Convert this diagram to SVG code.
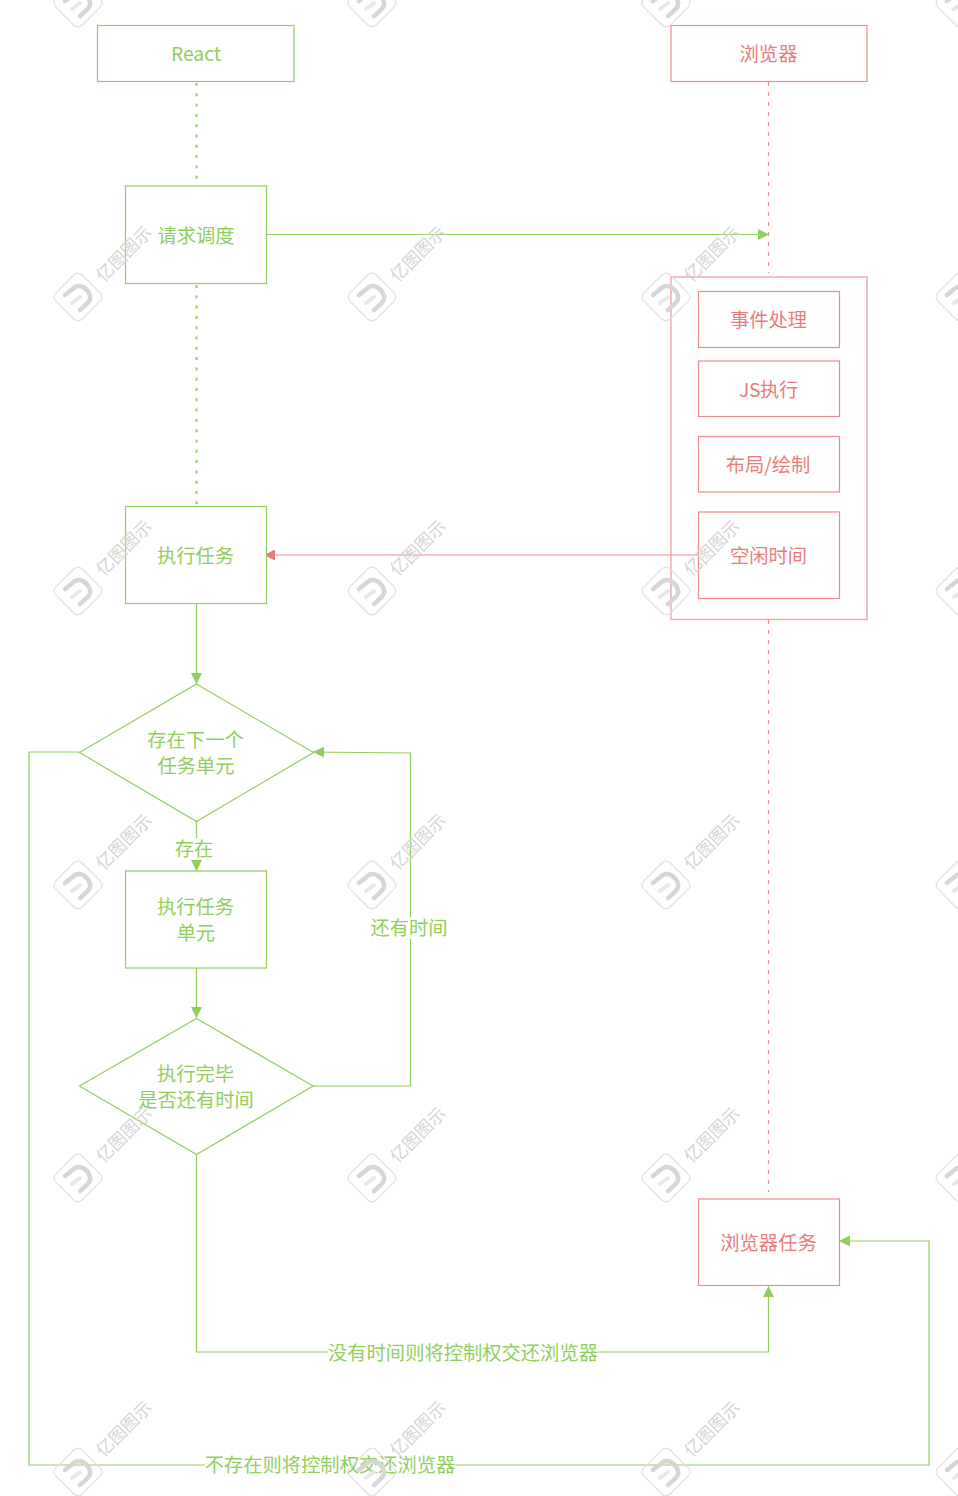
<svg xmlns="http://www.w3.org/2000/svg" width="958" height="1496" viewBox="0 0 958 1496">
<style>
text{font-family:"Noto Sans CJK SC","Noto Sans",sans-serif;font-size:19.3px;text-anchor:middle;dominant-baseline:central}
.g{fill:#fff;stroke:#92ce5c;stroke-width:1.2}
.r{fill:#fff;stroke:#ee8a8b;stroke-width:1.2}
.gt{fill:#92ce5c}
.rt{fill:#ea7b7d}
.cg{fill:none;stroke:#92ce5c;stroke-width:1.2}
.cr{fill:none;stroke:#ee8a8b;stroke-width:1.2}
.dg{fill:none;stroke:#92ce5c;stroke-width:2;stroke-dasharray:3 7.3}
.dr{fill:none;stroke:#ee8a8b;stroke-width:1.2;stroke-dasharray:4 6}
.wt{fill:#d4d4d4;font-size:17.5px}
</style>
<defs>
<marker id="ag" markerUnits="userSpaceOnUse" markerWidth="12" markerHeight="11" refX="11" refY="5.500" orient="auto"><path d="M0 0L11 5.500L0 11Z" fill="#92ce5c"/></marker>
<marker id="ar" markerUnits="userSpaceOnUse" markerWidth="12" markerHeight="11" refX="11" refY="5.500" orient="auto"><path d="M0 0L11 5.500L0 11Z" fill="#ea7b7d"/></marker>
<g id="wm">
<rect x="-18.500" y="-18.500" width="37" height="37" rx="5.500" transform="rotate(45)" fill="none" stroke="#e0e0e0" stroke-width="1.2"/>
<path d="M-13-2L-3-10C3-13 10-8 12-1C13 4 9 7 2 13" fill="none" stroke="#d6d6d6" stroke-width="4.500" stroke-linecap="round"/>
<path d="M-6 6L2 0" fill="none" stroke="#e8e8e8" stroke-width="4" stroke-linecap="round"/>
<text class="wt" x="45" y="-44" transform="rotate(-45 45 -44)">亿图图示</text>
</g>
</defs>
<g id="panel"><rect x="671" y="277" width="196" height="342.500" fill="#fff" stroke="#f3a6a7" stroke-width="1.4"/></g>
<g id="connectors">
<path class="dg" d="M196.500 83V185"/>
<path class="dg" d="M196.500 285V506"/>
<path class="dr" d="M768.500 82V273"/>
<path class="dr" d="M768.500 620V1192"/>
<path class="cg" d="M267 234.500H769" marker-end="url(#ag)"/>
<path class="cr" d="M698 555H264" marker-end="url(#ar)"/>
<path class="cg" d="M196.500 604V684" marker-end="url(#ag)"/>
<path class="cg" d="M196.500 822V871" marker-end="url(#ag)"/>
<path class="cg" d="M196.500 968V1018" marker-end="url(#ag)"/>
<path class="cg" d="M313 1086H410.500V753L313 752" marker-end="url(#ag)"/>
<path class="cg" d="M196.500 1155V1352H768.500V1286" marker-end="url(#ag)"/>
<path class="cg" d="M79 752H29V1465H929V1241H839" marker-end="url(#ag)"/>
</g>
<g id="react"><rect class="g" x="97.500" y="25.500" width="196.500" height="56"/><text class="gt" x="196" y="52.500">React</text></g>
<g id="browser"><rect class="r" x="671" y="25.500" width="196" height="56"/><text class="rt" x="768.500" y="53">浏览器</text></g>
<g id="request"><rect class="g" x="125.500" y="186" width="141" height="97.500"/><text class="gt" x="196" y="235">请求调度</text></g>
<g id="event"><rect class="r" x="698.500" y="291.500" width="141" height="56"/><text class="rt" x="768.500" y="319">事件处理</text></g>
<g id="js"><rect class="r" x="698.500" y="361" width="141" height="55.500"/><text class="rt" x="768.500" y="389" letter-spacing="-0.4">JS执行</text></g>
<g id="layout"><rect class="r" x="698.500" y="436.500" width="141" height="55.500"/><text class="rt" x="768" y="464">布局/绘制</text></g>
<g id="idle"><rect x="698.500" y="512" width="141" height="86.500" fill="none" stroke="#ee8a8b" stroke-width="1.2"/><text class="rt" x="768.500" y="555">空闲时间</text></g>
<g id="exec"><rect class="g" x="125.500" y="506.500" width="141" height="97"/><text class="gt" x="195.500" y="555">执行任务</text></g>
<g id="hasnext"><path class="g" d="M196.500 684L313.500 752.500L196.500 821.500L79.500 752.500Z"/><text class="gt" x="195.500" y="739">存在下一个</text><text class="gt" x="196" y="765">任务单元</text></g>
<g id="execunit"><rect class="g" x="125.500" y="871" width="141" height="97"/><text class="gt" x="195.500" y="906">执行任务</text><text class="gt" x="196" y="932">单元</text></g>
<g id="done"><path class="g" d="M196.500 1018.500L313 1086L196.500 1154.500L79.500 1086Z"/><text class="gt" x="195.500" y="1073">执行完毕</text><text class="gt" x="196" y="1099">是否还有时间</text></g>
<g id="browsertask"><rect class="r" x="698.500" y="1199" width="141" height="86.500"/><text class="rt" x="768.500" y="1242">浏览器任务</text></g>
<g id="labels">
<rect x="174" y="838" width="40" height="22" fill="#fff"/><text class="gt" x="194" y="848">存在</text>
<rect x="370" y="917" width="78" height="22" fill="#fff"/><text class="gt" x="409" y="927">还有时间</text>
<rect x="328" y="1341" width="270" height="22" fill="#fff"/><text class="gt" x="463" y="1352">没有时间则将控制权交还浏览器</text>
<rect x="205" y="1454" width="250" height="22" fill="#fff"/><text class="gt" x="330" y="1464">不存在则将控制权交还浏览器</text>
</g>
<g id="watermarks">
<use href="#wm" x="78" y="3"/><use href="#wm" x="372" y="3"/><use href="#wm" x="666" y="3"/><use href="#wm" x="960" y="3"/>
<use href="#wm" x="78" y="297"/><use href="#wm" x="372" y="297"/><use href="#wm" x="666" y="297"/><use href="#wm" x="960" y="297"/>
<use href="#wm" x="78" y="591"/><use href="#wm" x="372" y="591"/><use href="#wm" x="666" y="591"/><use href="#wm" x="960" y="591"/>
<use href="#wm" x="78" y="885"/><use href="#wm" x="372" y="885"/><use href="#wm" x="666" y="885"/><use href="#wm" x="960" y="885"/>
<use href="#wm" x="78" y="1178"/><use href="#wm" x="372" y="1178"/><use href="#wm" x="666" y="1178"/><use href="#wm" x="960" y="1178"/>
<use href="#wm" x="78" y="1472"/><use href="#wm" x="372" y="1472"/><use href="#wm" x="666" y="1472"/><use href="#wm" x="960" y="1472"/>
</g>
</svg>
